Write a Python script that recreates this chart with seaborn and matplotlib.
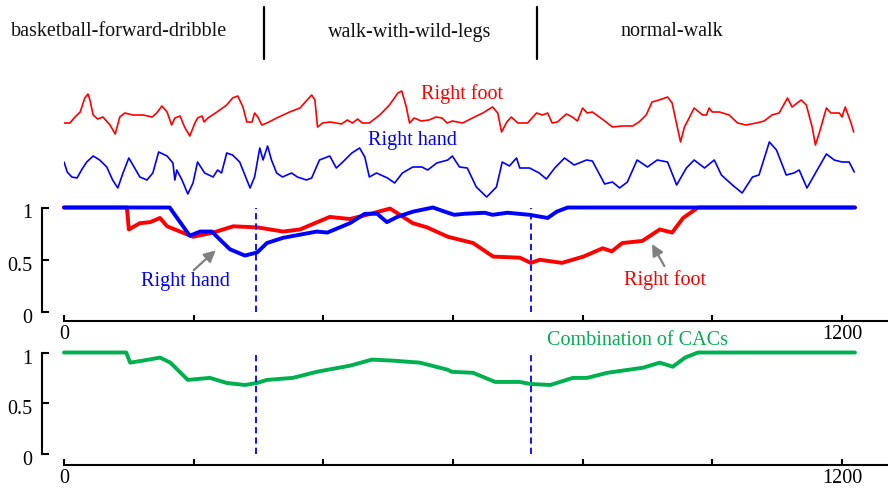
import matplotlib
matplotlib.use("Agg")
import matplotlib.pyplot as plt
import matplotlib.transforms as mtransforms
import seaborn as sns
import pandas as pd
from matplotlib.lines import Line2D

# --- raw signals (arbitrary amplitude units) ---
foot_raw_frame = [0, 9, 17, 25, 32, 37, 40, 45, 52, 60, 71, 79, 86, 94, 106, 122, 136, 143, 151, 159,
                  166, 171, 179, 186, 194, 202, 206, 213, 216, 222, 236, 251, 260, 268, 276, 282, 290, 294, 299, 305,
                  313, 328, 348, 364, 382, 387, 391, 399, 410, 420, 428, 437, 445, 453, 460, 471, 487, 502, 515, 521,
                  528, 533, 540, 551, 563, 574, 583, 591,
                  599, 615, 630, 646, 661, 669, 675, 683, 690, 700, 715, 729, 738, 746, 753, 761, 775, 784, 792, 800,
                  807, 815, 830, 846, 861, 877, 887, 898, 907, 918, 931, 938, 946, 951, 957, 965, 972, 985, 991, 995,
                  1000, 1011, 1026, 1039, 1052, 1068, 1080, 1092, 1103, 1116, 1123, 1137, 1145, 1154, 1159, 1165,
                  1176, 1183, 1196, 1200, 1205, 1214, 1218]
foot_raw_value = [22, 22, 28, 33, 47, 51, 45, 30, 26, 28, 20, 11, 28, 32, 30, 30, 28, 32, 39, 33,
                  20, 27, 29, 18, 9, 22, 27, 29, 23, 27, 33, 40, 47, 49, 38, 23, 23, 32, 28, 20,
                  22, 27, 33, 37, 50, 45, 18, 22, 23, 22, 21, 25, 22, 26, 22, 22, 30, 40, 52, 54,
                  38, 22, 27, 24, 25, 28, 27, 22,
                  24, 22, 27, 32, 38, 32, 13, 23, 28, 22, 22, 32, 30, 32, 22, 23, 31, 28, 24, 37,
                  32, 33, 26, 18, 19, 19, 23, 30, 43, 45, 48, 42, 18, 3, 18, 28, 37, 30, 30, 37,
                  33, 33, 30, 22, 20, 22, 24, 30, 32, 47, 38, 45, 40, 18, 0, 12,
                  37, 32, 32, 28, 38, 22, 13]

hand_raw_frame = [0, 5, 12, 20, 28, 35, 45, 55, 66, 75, 83, 91, 100, 109, 117, 128, 137, 146, 159, 168,
                  171, 174, 182, 191, 199, 206, 217, 230, 237, 243, 251, 260, 271, 279, 287, 294, 302, 307, 314, 320,
                  328, 337, 351, 360, 374, 382, 394, 410, 420, 430, 444, 456, 464, 471, 482, 499, 510, 522, 538, 552,
                  561, 575, 592,
                  599, 610, 622, 636, 652, 667, 676, 687, 698, 703, 718, 733, 744, 757, 772, 787, 806, 815, 834, 846,
                  857, 869, 884, 900, 915, 931, 945, 960, 972, 988, 1003, 1014, 1031, 1046, 1062, 1072, 1088, 1099,
                  1114, 1126, 1134, 1146, 1160, 1176, 1188, 1200, 1211, 1219]
hand_raw_value = [38, 28, 23, 22, 31, 38, 44, 40, 33, 20, 12, 27, 42, 32, 23, 20, 27, 48, 44, 37,
                  20, 30, 20, 6, 17, 38, 27, 23, 30, 27, 47, 45, 38, 25, 12, 23, 52, 40, 54, 40,
                  27, 23, 27, 23, 20, 22, 40, 44, 32, 38, 47, 52, 43, 23, 27, 22, 17, 27, 33, 33,
                  30, 37, 40,
                  44, 33, 32, 13, 3, 13, 38, 34, 42, 32, 32, 27, 21, 32, 42, 35, 40, 39, 16, 18,
                  12, 18, 40, 33, 40, 38, 15, 32, 40, 32, 40, 25, 15, 7, 23, 25, 58, 50,
                  25, 27, 30, 12, 28, 46, 40, 38, 38, 28]

# --- CAC curves ---
hand_cac_frame = [0, 163, 194, 210, 228, 241, 256, 279, 298, 313, 338, 390, 406, 441, 464, 483, 498, 514,
                  538, 569, 592, 602, 618, 649, 661, 684, 718, 746, 760, 777, 1220]
hand_cac_value = [1, 1, 0.73, 0.77, 0.77, 0.69, 0.60, 0.54, 0.57, 0.66, 0.71, 0.77, 0.76, 0.85, 0.94, 0.94,
                  0.86, 0.91, 0.96, 1.0, 0.95, 0.93, 0.94, 0.95, 0.93, 0.95, 0.93, 0.90, 0.96, 1.0, 1.0]

foot_cac_frame = [0, 97, 100, 117, 133, 148, 159, 179, 199, 230, 261, 298, 338, 364, 410, 441, 467, 503,
                  538, 560, 592, 631, 662, 703, 720, 734, 768, 801, 831, 845, 861, 892, 919, 938, 955, 978, 1220]
foot_cac_value = [1, 1, 0.79, 0.85, 0.86, 0.90, 0.82, 0.77, 0.72, 0.76, 0.82, 0.81, 0.77, 0.79, 0.91, 0.89,
                  0.93, 0.99, 0.85, 0.81, 0.72, 0.66, 0.53, 0.52, 0.47, 0.50, 0.47, 0.53, 0.61, 0.58, 0.66,
                  0.68, 0.79, 0.76, 0.90, 1.0, 1.0]

combo_frame = [0, 96, 102, 122, 148, 164, 191, 225, 251, 279, 298, 313, 353, 390, 441, 475, 507, 549, 592,
               598, 631, 665, 703, 719, 750, 785, 807, 838, 893, 919, 939, 958, 978, 1220]
combo_value = [1, 1, 0.90, 0.92, 0.95, 0.90, 0.73, 0.75, 0.70, 0.68, 0.70, 0.73, 0.75, 0.81, 0.87, 0.93,
               0.92, 0.90, 0.83, 0.81, 0.80, 0.71, 0.71, 0.69, 0.68, 0.75, 0.75, 0.80, 0.85, 0.90, 0.86,
               0.95, 1.0, 1.0]

boundaries = [296, 720]
activities = ["basketball-forward-dribble", "walk-with-wild-legs", "normal-walk"]

RED, BLUE, GREEN = "#ff0000", "#0000ff", "#00b050"
W, H = 888, 491
XMAX = 1271

sns.set_theme(style="white")
plt.rcParams['font.family'] = ['Liberation Serif', 'DejaVu Serif']
plt.rcParams['font.size'] = 14.5

fig = plt.figure(figsize=(W / 100, H / 100), dpi=100)


def px_axes(left, top, right, bottom):
    return fig.add_axes([left / W, 1 - bottom / H, (right - left) / W, (bottom - top) / H])


# --- activity labels and separators ---
for label, cx in zip(activities, [119, 410, 672]):
    fig.text(cx / W, 1 - 32 / H, label, ha="center", va="center", fontsize=14.5, color="#111111")
for sx in [264, 537]:
    fig.add_artist(Line2D([sx / W, sx / W], [1 - 7 / H, 1 - 59 / H], color="black", lw=1.6))

# --- raw signals ---
ax_raw = px_axes(64, 85, 888, 202)
raw_df = pd.DataFrame({"frame": foot_raw_frame, "v": [v + 55 for v in foot_raw_value]})
sns.lineplot(data=raw_df, x="frame", y="v", ax=ax_raw, color=RED, lw=1.2, sort=False)
hand_df = pd.DataFrame({"frame": hand_raw_frame, "v": hand_raw_value})
sns.lineplot(data=hand_df, x="frame", y="v", ax=ax_raw, color=BLUE, lw=1.2, sort=False)
ax_raw.set_xlim(0, XMAX)
ax_raw.set_ylim(-2, 115)
ax_raw.axis("off")
ax_raw.text(614, 106, "Right foot", color=RED, ha="center", va="center", fontsize=14.5)
ax_raw.text(537, 59, "Right hand", color=BLUE, ha="center", va="center", fontsize=14.5)

# y tick labels sit a little below their ticks in the original
label_shift = mtransforms.ScaledTranslation(0, -4 / 100, fig.dpi_scale_trans)


def style_axis(ax, x_off):
    ax.set_xlim(0, XMAX)
    ax.set_ylim(0, 1)
    ax.set_xlabel("")
    ax.set_ylabel("")
    for s in ["top", "right"]:
        ax.spines[s].set_visible(False)
    ax.spines["left"].set_position(("outward", 15.8))
    ax.spines["bottom"].set_position(("outward", x_off))
    ax.spines["left"].set_bounds(0, 1)
    for s in ["left", "bottom"]:
        ax.spines[s].set_color("black")
        ax.spines[s].set_linewidth(1.5)
    ax.set_xticks(range(0, 1201, 200))
    ax.set_xticklabels(["0", "", "", "", "", "", "1200"])
    ax.set_yticks([0, 0.5, 1])
    ax.set_yticklabels(["0", "0.5", "1"])
    ax.tick_params(axis="x", bottom=True, direction="in", length=4.5, width=1.5, pad=3,
                   labelsize=14.5, colors="black")
    ax.tick_params(axis="y", left=True, direction="in", length=5, width=1.5, pad=7,
                   labelsize=14.5, colors="black")
    for lab in ax.get_yticklabels():
        lab.set_transform(lab.get_transform() + label_shift)
    ax.patch.set_alpha(0)
    for b in boundaries:
        ax.plot([b, b], [0, 1], color=BLUE, lw=1.3, linestyle=(0, (3.5, 2.2)), clip_on=False)


arrow = dict(arrowstyle="-|>", color="#808080", lw=1.6, mutation_scale=17, shrinkA=0, shrinkB=0)

# --- CAC panel ---
ax_mid = px_axes(64, 207.5, 888, 312)
foot_df = pd.DataFrame({"frame": foot_cac_frame, "cac": foot_cac_value})
hcac_df = pd.DataFrame({"frame": hand_cac_frame, "cac": hand_cac_value})
sns.lineplot(data=foot_df, x="frame", y="cac", ax=ax_mid, color=RED, lw=2.8, sort=False, clip_on=False)
sns.lineplot(data=hcac_df, x="frame", y="cac", ax=ax_mid, color=BLUE, lw=2.8, sort=False, clip_on=False)
style_axis(ax_mid, 6.5)
ax_mid.annotate("", xy=(234, 0.59), xytext=(200, 0.40), arrowprops=arrow)
ax_mid.text(188, 0.29, "Right hand", color=BLUE, ha="center", va="center", fontsize=14.5)
ax_mid.annotate("", xy=(907, 0.65), xytext=(926, 0.44), arrowprops=arrow)
ax_mid.text(927, 0.31, "Right foot", color=RED, ha="center", va="center", fontsize=14.5)

# --- combination panel ---
ax_bot = px_axes(64, 352.5, 888, 454)
combo_df = pd.DataFrame({"frame": combo_frame, "cac": combo_value})
sns.lineplot(data=combo_df, x="frame", y="cac", ax=ax_bot, color=GREEN, lw=2.8, sort=False, clip_on=False)
style_axis(ax_bot, 7.9)
ax_bot.text(885, 1.12, "Combination of CACs", color=GREEN, ha="center", va="center", fontsize=14.5)

fig.savefig("out.png", dpi=100)
